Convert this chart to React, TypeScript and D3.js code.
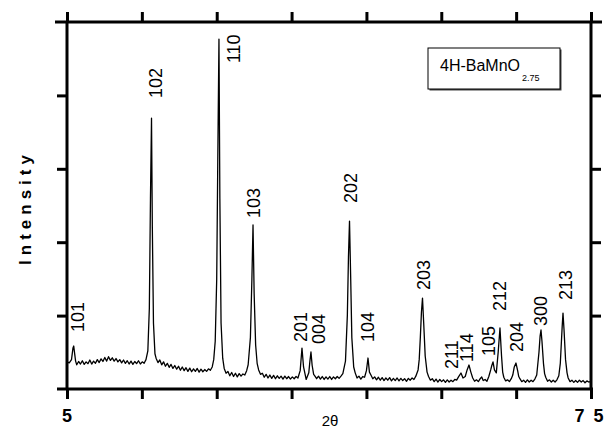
import * as d3 from "d3";
import { useEffect, useRef } from "react";

// XRD trace: [2theta, intensity (a.u.)]
const trace: [number, number][] = [
  [5.0, 370], [5.3, 355], [5.6, 400], [5.8, 560], [5.9, 586], [6.0, 500], [6.15, 380],
  [6.3, 330], [6.55, 375], [6.8, 340], [7.05, 385], [7.3, 335], [7.55, 370], [7.8, 345],
  [8.05, 395], [8.3, 340], [8.55, 380], [8.8, 350], [9.05, 400], [9.3, 360], [9.55, 410],
  [9.8, 375], [10.05, 430], [10.3, 380], [10.55, 440], [10.8, 390], [11.05, 425], [11.3, 380],
  [11.55, 415], [11.8, 370], [12.05, 400], [12.3, 355], [12.55, 395], [12.8, 350],
  [13.05, 385], [13.3, 340], [13.55, 380], [13.8, 335], [14.05, 375], [14.3, 345],
  [14.55, 385], [14.8, 340], [15.05, 370], [15.3, 350], [15.55, 400],
  [15.8, 520], [16.0, 1100], [16.15, 2600], [16.29, 3690], [16.4, 2200], [16.55, 900],
  [16.75, 480],
  [16.9, 420], [17.15, 360], [17.4, 395], [17.65, 330], [17.9, 370], [18.15, 310],
  [18.4, 350], [18.65, 295], [18.9, 335], [19.15, 280], [19.4, 320], [19.65, 270],
  [19.9, 310], [20.15, 255], [20.4, 300], [20.65, 250], [20.9, 290], [21.15, 240],
  [21.4, 285], [21.65, 235], [21.9, 275], [22.15, 240], [22.4, 280], [22.65, 230],
  [22.9, 270], [23.15, 235], [23.4, 265], [23.65, 240], [23.9, 275], [24.15, 255],
  [24.4, 300],
  [24.6, 400], [24.8, 650], [25.0, 1500], [25.15, 3200], [25.3, 4767], [25.42, 2600],
  [25.58, 900], [25.8, 420],
  [26.0, 280], [26.25, 215], [26.5, 240], [26.75, 180], [27.0, 225], [27.25, 170],
  [27.5, 215], [27.75, 165], [28.0, 210], [28.25, 175], [28.5, 205], [28.75, 190],
  [29.0, 250],
  [29.2, 330], [29.5, 700], [29.7, 1500], [29.85, 2234], [30.0, 1300], [30.2, 600],
  [30.4, 350],
  [30.6, 260], [30.85, 200], [31.1, 215], [31.35, 160], [31.6, 200], [31.85, 150],
  [32.1, 190], [32.35, 145], [32.6, 185], [32.85, 140], [33.1, 180], [33.35, 145],
  [33.6, 175], [33.85, 135], [34.1, 175], [34.35, 140], [34.6, 170], [34.85, 135],
  [35.1, 165], [35.35, 140], [35.6, 170], [35.85, 150],
  [36.15, 250], [36.39, 558], [36.6, 300], [36.95, 130], [37.3, 220], [37.45, 380],
  [37.59, 504], [37.75, 320], [37.95, 200],
  [38.1, 180], [38.35, 140], [38.6, 175], [38.85, 135], [39.1, 170], [39.35, 130],
  [39.6, 165], [39.85, 135], [40.1, 170], [40.35, 130], [40.6, 165], [40.85, 140],
  [41.1, 170], [41.35, 145], [41.6, 175], [41.85, 210],
  [42.2, 380], [42.45, 1000], [42.6, 1800], [42.74, 2288], [42.9, 1500], [43.05, 700],
  [43.3, 300],
  [43.5, 220], [43.75, 150], [44.0, 175], [44.25, 135], [44.5, 170], [44.75, 160],
  [45.0, 250], [45.21, 422], [45.4, 230],
  [45.6, 190], [45.85, 140], [46.1, 165], [46.35, 125], [46.6, 160], [46.85, 120],
  [47.1, 155], [47.35, 115], [47.6, 150], [47.85, 120], [48.1, 155], [48.35, 110],
  [48.6, 145], [48.85, 115], [49.1, 150], [49.35, 110], [49.6, 145], [49.85, 115],
  [50.1, 140], [50.35, 105], [50.6, 145], [50.85, 120], [51.1, 150], [51.35, 130],
  [51.6, 175],
  [51.9, 260], [52.05, 400], [52.2, 700], [52.35, 1050], [52.49, 1239], [52.65, 900],
  [52.85, 450], [53.1, 230],
  [53.3, 170], [53.55, 120], [53.8, 140], [54.05, 100], [54.3, 135], [54.55, 95],
  [54.8, 130], [55.05, 100], [55.3, 125], [55.55, 90], [55.8, 125], [56.05, 95],
  [56.3, 120], [56.55, 100], [56.8, 130], [57.05, 120],
  [57.3, 165], [57.63, 218], [57.9, 150], [58.2, 170], [58.45, 260], [58.7, 327],
  [58.95, 230],
  [59.2, 150], [59.45, 105], [59.7, 125], [59.95, 100], [60.2, 140], [60.4, 165],
  [60.6, 115], [60.85, 130], [61.1, 105], [61.35, 170],
  [61.6, 260], [61.75, 320], [61.91, 368], [62.1, 260], [62.35, 220], [62.6, 500],
  [62.84, 831], [63.05, 450], [63.2, 230],
  [63.35, 160], [63.6, 110], [63.85, 125], [64.1, 100], [64.35, 140],
  [64.55, 190], [64.75, 300], [64.98, 354], [65.2, 250], [65.35, 170],
  [65.5, 140], [65.75, 100], [66.0, 120], [66.25, 90], [66.5, 125], [66.75, 95],
  [67.0, 120], [67.25, 100], [67.5, 135], [67.75, 190],
  [68.05, 500], [68.2, 720], [68.32, 804], [68.45, 650], [68.65, 350], [68.8, 210],
  [68.95, 160], [69.2, 105], [69.45, 125], [69.7, 95], [69.95, 120], [70.2, 95],
  [70.45, 125], [70.7, 180],
  [70.9, 350], [71.05, 650], [71.15, 850], [71.26, 1035], [71.4, 800], [71.6, 400],
  [71.8, 220],
  [71.95, 150], [72.2, 100], [72.45, 120], [72.7, 90], [72.95, 115], [73.2, 90],
  [73.45, 120], [73.7, 95], [73.95, 115], [74.2, 85], [74.45, 110], [74.7, 95],
  [75.0, 105],
];

// reflection labels and where they sit (2theta, intensity of label foot)
const hkl = ["101", "102", "110", "103", "201", "004", "202", "104", "203", "211", "114", "105", "212", "204", "300", "213"];
const hklTheta = [6.47, 16.76, 27.31, 29.85, 36.13, 38.66, 42.94, 45.21, 52.69, 56.3, 58.43, 61.37, 62.84, 65.11, 68.32, 71.66];
const hklI = [776, 3963, 4440, 2329, 640, 613, 2533, 640, 1348, 272, 368, 449, 1062, 504, 858, 1212];

const xTicks = [5, 15, 25, 35, 45, 55, 65, 75];
const yTicks = [1000, 2000, 3000, 4000];

const W = 614;
const H = 428;
const font = "'Liberation Sans', Arial, sans-serif";

const App = () => {
  const svgRef = useRef<SVGSVGElement>(null);

  useEffect(() => {
    const svg = d3.select(svgRef.current);
    svg.selectAll("*").remove();

    const x = d3.scaleLinear().domain([5, 75]).range([67, 591]);
    const y = d3.scaleLinear().domain([0, 5000]).range([389, 22]);

    // the pattern
    const line = d3.line<[number, number]>().x(d => x(d[0])).y(d => y(d[1]));
    svg.append("path")
      .datum(trace)
      .attr("d", line)
      .attr("fill", "none")
      .attr("stroke", "#000")
      .attr("stroke-width", 1.3)
      .attr("stroke-linejoin", "round");

    // frame
    const ax = svg.append("g").attr("stroke", "#000").attr("stroke-width", 3);
    ax.append("line").attr("x1", 55).attr("x2", 602).attr("y1", y(5000)).attr("y2", y(5000));
    ax.append("line").attr("x1", 57).attr("x2", 593).attr("y1", y(0)).attr("y2", y(0));
    ax.append("line").attr("x1", x(5)).attr("x2", x(5)).attr("y1", y(5000)).attr("y2", y(0));
    ax.append("line").attr("x1", x(75)).attr("x2", x(75)).attr("y1", y(5000)).attr("y2", y(0));

    const styleAxis = (g: any) => {
      g.select(".domain").remove();
      g.selectAll(".tick line").attr("stroke", "#000").attr("stroke-width", 3);
      g.selectAll(".tick text").remove();
    };
    svg.append("g").attr("transform", `translate(0,${y(0)})`)
      .call(d3.axisBottom(x).tickValues(xTicks).tickSize(10)).call(styleAxis);
    svg.append("g").attr("transform", `translate(0,${y(5000)})`)
      .call(d3.axisTop(x).tickValues(xTicks).tickSize(10)).call(styleAxis);
    svg.append("g").attr("transform", `translate(${x(5)},0)`)
      .call(d3.axisLeft(y).tickValues(yTicks).tickSize(10)).call(styleAxis);
    svg.append("g").attr("transform", `translate(${x(75)},0)`)
      .call(d3.axisRight(y).tickValues(yTicks).tickSize(10)).call(styleAxis);

    // peak labels
    svg.append("g")
      .selectAll("text")
      .data(hkl)
      .join("text")
      .attr("transform", (d, i) => `translate(${x(hklTheta[i])},${y(hklI[i])}) rotate(-90)`)
      .attr("dy", "0.36em")
      .attr("font-family", font)
      .attr("font-size", 18)
      .text(d => d);

    // axis texts
    svg.append("text").attr("x", x(5)).attr("y", 422).attr("text-anchor", "middle")
      .attr("font-family", font).attr("font-weight", "bold").attr("font-size", 18).text("5");
    svg.append("text").attr("x", x(75) - 1).attr("y", 422).attr("text-anchor", "middle")
      .attr("font-family", font).attr("font-weight", "bold").attr("font-size", 18)
      .attr("letter-spacing", 2).text("7 5");
    svg.append("text").attr("x", 330).attr("y", 426).attr("text-anchor", "middle")
      .attr("font-family", font).attr("font-size", 15).text("2θ");
    svg.append("text")
      .attr("transform", `translate(31,${(y(0) + y(5000)) / 2 + 2}) rotate(-90)`)
      .attr("text-anchor", "middle")
      .attr("font-family", font).attr("font-weight", "bold").attr("font-size", 17)
      .attr("letter-spacing", 5).text("Intensity");

    // sample box
    const bx = 428, by = 48, bw = 132, bh = 41;
    svg.append("rect").attr("x", bx + 1.5).attr("y", by + 1.5).attr("width", bw).attr("height", bh)
      .attr("fill", "#444");
    svg.append("rect").attr("x", bx).attr("y", by).attr("width", bw).attr("height", bh)
      .attr("fill", "#fff").attr("stroke", "#000").attr("stroke-width", 1);
    const t = svg.append("text").attr("x", bx + 12).attr("y", 71)
      .attr("font-family", font).attr("font-size", 16);
    t.append("tspan").text("4H-BaMnO");
    t.append("tspan").attr("font-size", 9).attr("dy", 10).attr("dx", 2).text("2.75");
  }, []);

  return (
    <svg ref={svgRef} width={W} height={H}
      style={{ position: "absolute", left: 0, top: 0, background: "#fff" }} />
  );
};

export default App;
